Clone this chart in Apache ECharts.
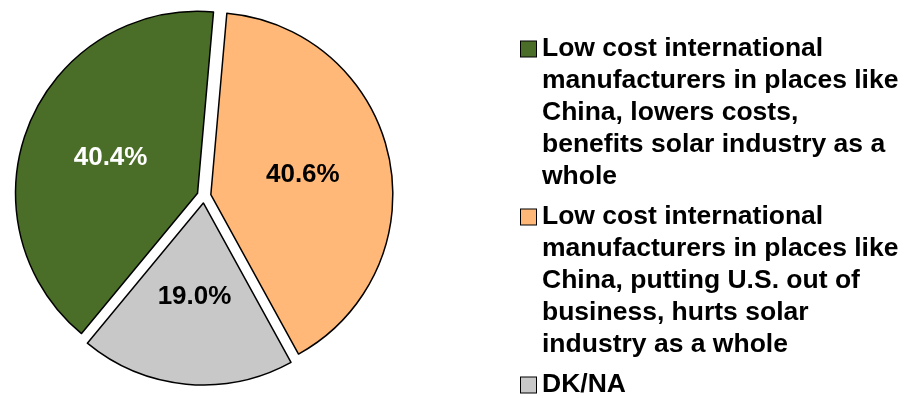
<!DOCTYPE html>
<html>
<head>
<meta charset="utf-8">
<script src="https://cdn.jsdelivr.net/npm/echarts@6/dist/echarts.min.js"></script>
<style>
  html, body { margin: 0; padding: 0; background: #ffffff; }
  #chart { width: 905px; height: 398px; }
</style>
</head>
<body>
<div id="chart"></div>
<script>
// Survey answers and their shares (percent)
const categories = [
  'Low cost international manufacturers in places like China, lowers costs, benefits solar industry as a whole',
  'Low cost international manufacturers in places like China, putting U.S. out of business, hurts solar industry as a whole',
  'DK/NA'
];
const shares = [40.4, 40.6, 19.0];
const sliceColors = ['#4a6e27', '#ffb877', '#c8c8c8'];
const labelColors = ['#ffffff', '#000000', '#000000'];

// Line breaks used for the legend entries
const legendLines = [
  ['Low cost international', 'manufacturers in places like', 'China, lowers costs,', 'benefits solar industry as a', 'whole'],
  ['Low cost international', 'manufacturers in places like', 'China, putting U.S. out of', 'business, hurts solar', 'industry as a whole'],
  ['DK/NA']
];

const FONT = '"Liberation Sans", Arial, sans-serif';
const LEGEND_FONT = 26.5;
const LEGEND_LINE = 32;
const SWATCH = 15;
const SWATCH_GAP = 6;

const chart = echarts.init(document.getElementById('chart'), null, { renderer: 'canvas' });

// Small nudges so each percentage sits where it reads best in its slice
const labelOffsets = [[1, 5], [-3, 6], [-2, 2]];

const pieData = categories.map((name, i) => ({
  name: name,
  value: shares[i],
  selected: true,
  itemStyle: { color: sliceColors[i] },
  label: { color: labelColors[i], offset: labelOffsets[i] }
}));

// Legend text: a bordered colour swatch in front of the first line,
// following lines indented under the text
const textToken = {
  fontFamily: FONT,
  fontSize: LEGEND_FONT,
  fontWeight: 'bold',
  color: '#000000',
  lineHeight: LEGEND_LINE
};
const rich = {
  first: Object.assign({}, textToken, { padding: [0, 0, 0, SWATCH_GAP] }),
  rest: Object.assign({}, textToken, { padding: [0, 0, 0, SWATCH + SWATCH_GAP] })
};
sliceColors.forEach((c, i) => {
  rich['sw' + i] = {
    width: SWATCH,
    height: SWATCH,
    lineHeight: LEGEND_LINE,
    backgroundColor: c,
    borderColor: '#000000',
    borderWidth: 1
  };
});

chart.setOption({
  animation: false,
  backgroundColor: '#ffffff',
  legend: {
    orient: 'vertical',
    left: 515,
    top: 33,
    height: 390,
    padding: 0,
    itemWidth: 0,
    itemHeight: 0,
    itemGap: 8,
    icon: 'rect',
    itemStyle: { opacity: 0 },
    selectedMode: false,
    data: categories,
    formatter: function (name) {
      const i = categories.indexOf(name);
      return legendLines[i].map((line, k) =>
        k === 0 ? '{sw' + i + '|}{first|' + line + '}' : '{rest|' + line + '}'
      ).join('\n');
    },
    textStyle: {
      fontFamily: FONT,
      fontSize: LEGEND_FONT,
      fontWeight: 'bold',
      color: '#000000',
      lineHeight: LEGEND_LINE,
      rich: rich
    }
  },
  series: [{
    type: 'pie',
    center: [204, 196],
    radius: [0, 182],
    startAngle: 230.4,
    clockwise: true,
    selectedMode: 'multiple',
    selectedOffset: 7,
    silent: true,
    data: pieData,
    itemStyle: { borderColor: '#000000', borderWidth: 1.5 },
    select: { itemStyle: { borderColor: '#000000', borderWidth: 1.5 } },
    emphasis: { disabled: true },
    labelLine: { show: false },
    label: {
      show: true,
      position: 'inside',
      fontFamily: FONT,
      fontSize: 26,
      fontWeight: 'bold',
      formatter: function (p) { return p.value.toFixed(1) + '%'; }
    }
  }]
});
</script>
</body>
</html>
